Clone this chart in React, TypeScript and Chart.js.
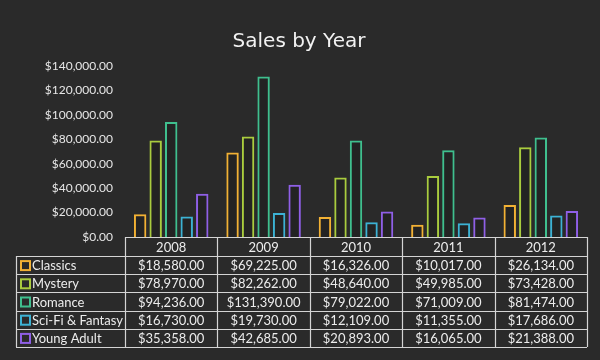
import React, { useEffect, useRef } from "react";
import { Chart, registerables } from "chart.js";

Chart.register(...registerables);

const years = ["2008", "2009", "2010", "2011", "2012"];
const seriesNames = ["Classics", "Mystery", "Romance", "Sci-Fi & Fantasy", "Young Adult"];
const classics = [18580, 69225, 16326, 10017, 26134];
const mystery = [78970, 82262, 48640, 49985, 73428];
const romance = [94236, 131390, 79022, 71009, 81474];
const scifi = [16730, 19730, 12109, 11355, 17686];
const youngAdult = [35358, 42685, 20893, 16065, 21388];
const colors = ["#f2b134", "#a9cc3e", "#3fbf8e", "#3cb2d4", "#8f5fe6"];
const title = "Sales by Year";

const FONT = "'Lato', 'DejaVu Sans', sans-serif";

const fmt = (v: number) =>
  "$" + v.toLocaleString("en-US", { minimumFractionDigits: 2, maximumFractionDigits: 2 });

export default function App() {
  const ref = useRef<HTMLCanvasElement>(null);
  useEffect(() => {
    document.body.style.margin = "0";
    const allSeries = [classics, mystery, romance, scifi, youngAdult];
    const tablePlugin = {
      id: "tablePlugin",
      beforeDraw(chart: any) {
        const c = chart.ctx;
        c.save();
        c.fillStyle = "#2a2a2a";
        c.fillRect(0, 0, chart.width, chart.height);
        c.fillStyle = "#f2f2f2";
        c.font = `20px 'DejaVu Sans', sans-serif`;
        c.textAlign = "center";
        c.textBaseline = "middle";
        c.fillText(title, 299, 42);
        c.restore();
      },
      afterDraw(chart: any) {
        const c = chart.ctx;
        const xs = chart.scales.x;
        const area = chart.chartArea;
        const top = area.bottom;
        const headerH = 19;
        const rowH = 18.2;
        const leftX = 16;
        const bounds: number[] = [];
        const n = years.length;
        const step = (area.right - area.left) / n;
        for (let i = 0; i <= n; i++) bounds.push(area.left + step * i);
        const tableBottom = top + headerH + rowH * seriesNames.length;
        c.save();
        c.strokeStyle = "#d4d4d4";
        c.lineWidth = 1.2;
        c.beginPath();
        c.moveTo(area.left, top + 0.5);
        c.lineTo(area.right, top + 0.5);
        for (let r = 0; r <= seriesNames.length; r++) {
          const y = Math.round(top + headerH + rowH * r) + 0.5;
          c.moveTo(leftX, y);
          c.lineTo(area.right, y);
        }
        c.moveTo(leftX + 0.5, top + headerH);
        c.lineTo(leftX + 0.5, tableBottom);
        for (let i = 0; i <= n; i++) {
          const x = Math.round(bounds[i]) + 0.5;
          c.moveTo(x, top);
          c.lineTo(x, tableBottom);
        }
        c.stroke();
        c.fillStyle = "#ececec";
        c.font = `13px ${FONT}`;
        c.textBaseline = "middle";
        c.textAlign = "center";
        years.forEach((y, i) => {
          c.fillText(y, xs.getPixelForValue(i), top + headerH / 2 + 1);
        });
        seriesNames.forEach((name, r) => {
          const cy = top + headerH + rowH * r + rowH / 2 + 1;
          c.strokeStyle = colors[r];
          c.lineWidth = 2;
          c.strokeRect(21, cy - 5, 9, 9);
          c.fillStyle = "#ececec";
          c.textAlign = "left";
          c.fillText(name, 32, cy);
          c.textAlign = "center";
          allSeries[r].forEach((v, i) => {
            c.fillText(fmt(v), xs.getPixelForValue(i), cy);
          });
        });
        c.restore();
      },
    };
    const chart = new Chart(ref.current!, {
      type: "bar",
      data: {
        labels: years,
        datasets: seriesNames.map((name, i) => ({
          label: name,
          data: allSeries[i],
          backgroundColor: "rgba(0,0,0,0.15)",
          borderColor: colors[i],
          borderWidth: 2,
          categoryPercentage: 0.84,
          barPercentage: 0.8,
        })),
      },
      options: {
        animation: false,
        responsive: false,
        layout: { padding: { top: 66, bottom: 123, left: 0, right: 13 } },
        plugins: {
          legend: { display: false },
          title: { display: false },
          tooltip: { enabled: false },
        },
        scales: {
          x: { display: false },
          y: {
            min: 0,
            max: 140000,
            afterFit: (s: any) => {
              s.width = 125;
            },
            grid: { display: false, drawTicks: false },
            border: { display: false },
            ticks: {
              stepSize: 20000,
              padding: 12,
              color: "#e6e6e6",
              font: { family: FONT, size: 12 },
              callback: (v: any) => fmt(Number(v)),
            },
          },
        },
      },
      plugins: [tablePlugin],
    });
    return () => chart.destroy();
  }, []);
  return <canvas ref={ref} width={600} height={360} style={{ display: "block" }} />;
}
